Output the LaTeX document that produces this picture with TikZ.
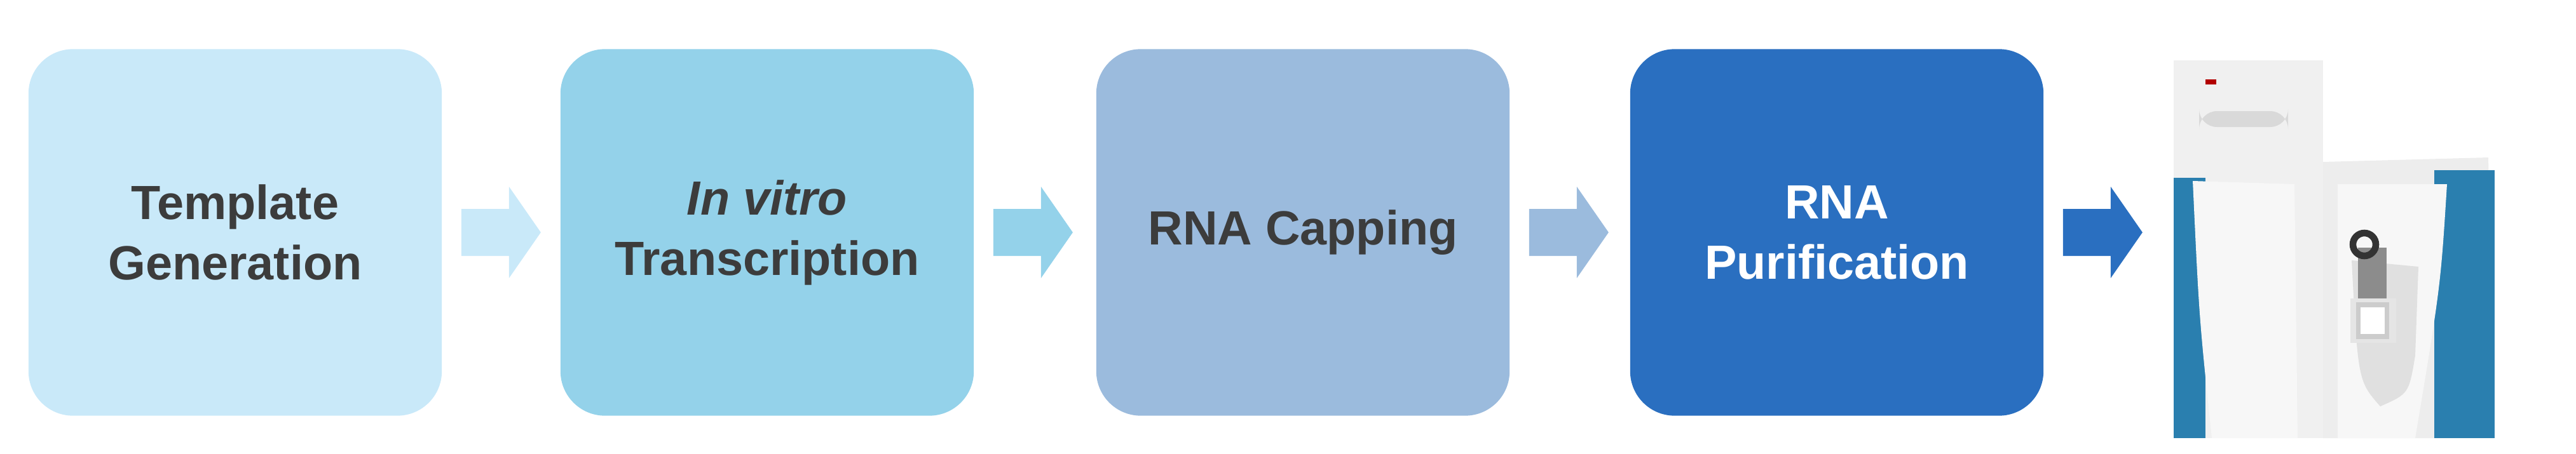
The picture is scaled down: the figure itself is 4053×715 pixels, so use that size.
\documentclass[tikz,border=0pt]{standalone}
\usepackage{fontspec}
\setmainfont{Liberation Sans}
\usetikzlibrary{positioning,calc}
\definecolor{stepA}{HTML}{C9E9F9}
\definecolor{stepB}{HTML}{94D2EA}
\definecolor{stepC}{HTML}{9BBBDD}
\definecolor{stepD}{HTML}{2A6FC0}
\definecolor{txt}{HTML}{3C3C3C}
\definecolor{teal}{HTML}{2A7FAF}
\tikzset{
  stepbox/.style={rounded corners=0.7cm,minimum width=6.5cm,minimum height=5.77cm,
    inner sep=0pt,align=center,font=\fontsize{21.5}{27}\selectfont\bfseries,text=txt},
}
\begin{document}
\begin{tikzpicture}[x=0.01cm,y=-0.01cm]
\useasboundingbox (0,0) rectangle (4053,715);
\node[stepbox,fill=stepA] (s1) at (370,366) {Template\\Generation};
\node[stepbox,fill=stepB] (s2) at (1207,366) {\textit{In vitro}\\Transcription};
\node[stepbox,fill=stepC] (s3) at (2050,366) {RNA Capping};
\node[stepbox,fill=stepD,text=white] (s4) at (2890,366) {RNA\\Purification};
% block arrows
\foreach \a/\c in {s1/stepA,s2/stepB,s3/stepC,s4/stepD}
  \fill[\c] ($(\a.east)+(30,-37)$) -- ++(75,0) -- ++(0,-35) -- ++(50,72)
    -- ++(-50,72) -- ++(0,-35) -- ++(-75,0) -- cycle;
% instrument
\fill[black!6] (3420,95) rectangle (3655,690);
\fill[black!7] (3655,255) -- (3915,248) -- (3925,690) -- (3655,690) -- cycle;
\fill[teal] (3420,280) rectangle (3470,690);
\fill[teal] (3830,268) -- (3925,268) -- (3925,690) -- (3830,690) -- cycle;
\fill[black!3] (3450,285) -- (3610,290) -- (3615,690) -- (3480,690)
  .. controls (3460,500) .. (3450,285);
\fill[black!3] (3678,290) -- (3850,290) .. controls (3840,450) .. (3800,690) -- (3678,690) -- cycle;
\fill[black!12] (3700,410) -- (3805,420) -- (3800,560) .. controls (3790,620) .. (3745,640)
  .. controls (3710,600) .. (3700,410);
\fill[black!45] (3710,390) rectangle (3755,470);
\draw[black!80,line width=3pt] (3720,385) circle (18);
\fill[black!10] (3698,470) rectangle (3770,540);
\draw[black!20,line width=2pt,fill=white] (3710,480) rectangle (3755,530);
\fill[black!15,rounded corners=8pt] (3460,175) rectangle (3600,200);
\fill[red!70!black] (3470,125) rectangle (3487,133);
\end{tikzpicture}
\end{document}
